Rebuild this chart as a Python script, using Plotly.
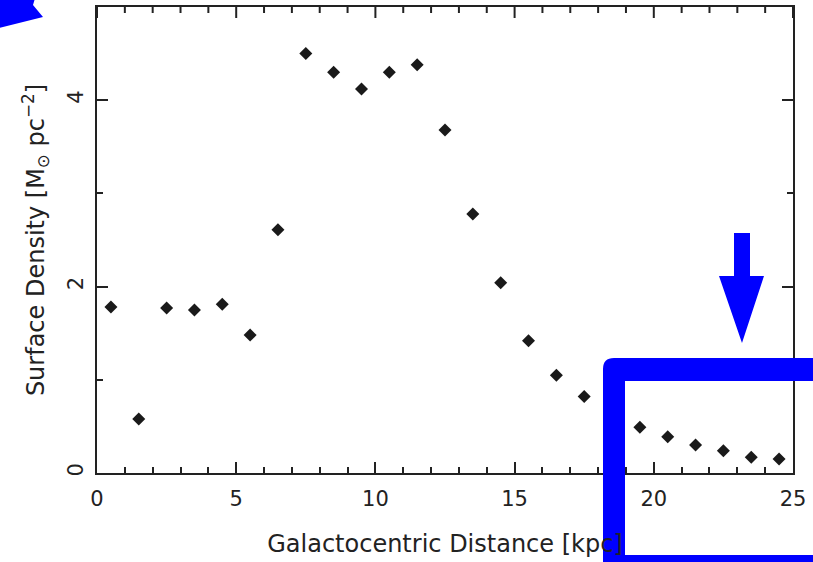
import plotly.graph_objects as go

# ---- data ----
distance_kpc = [0.5, 1.5, 2.5, 3.5, 4.5, 5.5, 6.5, 7.5, 8.5, 9.5, 10.5, 11.5,
                12.5, 13.5, 14.5, 15.5, 16.5, 17.5, 18.5, 19.5, 20.5, 21.5,
                22.5, 23.5, 24.5]
surface_density = [1.78, 0.58, 1.77, 1.75, 1.81, 1.48, 2.61, 4.50, 4.30, 4.12,
                   4.30, 4.38, 3.68, 2.78, 2.04, 1.42, 1.05, 0.82, 0.63, 0.49,
                   0.39, 0.30, 0.24, 0.17, 0.15]
x_ticks = [0, 5, 10, 15, 20, 25]
x_minor_ticks = [v for v in range(1, 25) if v % 5]
y_ticks = [0, 2, 4]

W, H = 813, 562
L, R, T, B = 97, 20, 7, 89
PW, PH = W - L - R, H - T - B


def px(x, y):
    """pixel -> paper coordinates (for overlay annotations only)"""
    return (x - L) / PW, (H - B - y) / PH


def p(x, y):
    X, Y = px(x, y)
    return f"{X:.5f},{Y:.5f}"


def poly(points):
    return " ".join(("M" if i == 0 else "L") + p(x, y) for i, (x, y) in enumerate(points)) + " Z"


def box_path():
    # thick bracket: outer rounded corner, inner sharp corner
    return ("M" + p(603, 575) + " L" + p(603, 369) + " Q" + p(603, 358) + " " + p(614, 358) +
            " L" + p(830, 358) + " L" + p(830, 381) + " L" + p(625, 381) +
            " L" + p(625, 555) + " L" + p(830, 555) + " L" + p(830, 575) + " Z")


BLUE = "#0000ff"
INK = "#222222"
FONT = "DejaVu Sans"

fig = go.Figure()
fig.add_trace(go.Scatter(
    x=distance_kpc, y=surface_density, mode="markers",
    marker=dict(symbol="diamond", size=10, color="#1a1a1a", line=dict(width=0)),
    showlegend=False, cliponaxis=False))

tick_style = dict(ticks="inside", ticklen=11, tickwidth=2, tickcolor=INK)
minor_style = dict(dtick=1, ticks="inside", ticklen=6, tickwidth=2, tickcolor=INK)

axis_common = dict(
    showgrid=False, zeroline=False, showline=True, linecolor=INK, linewidth=2,
    tickfont=dict(family=FONT, size=21, color=INK), **tick_style,
)

# top-edge tick marks (mirror of the bottom axis), placed on the x data scale
top_ticks = []
for v in x_ticks:
    top_ticks.append(dict(type="line", xref="x", yref="paper", x0=v, x1=v,
                          y0=1, y1=1 - 11 / PH, line=dict(color=INK, width=2),
                          layer="above"))
for v in x_minor_ticks:
    top_ticks.append(dict(type="line", xref="x", yref="paper", x0=v, x1=v,
                          y0=1, y1=1 - 6 / PH, line=dict(color=INK, width=2),
                          layer="above"))

fig.update_layout(
    width=W, height=H,
    margin=dict(l=L, r=R, t=T, b=B, pad=0, autoexpand=False),
    paper_bgcolor="white", plot_bgcolor="white",
    xaxis=dict(range=[0, 25], tickvals=x_ticks, ticktext=[str(v) for v in x_ticks],
               mirror=True, minor=minor_style, ticklabelstandoff=6,
               title=dict(text="Galactocentric Distance [kpc]",
                          font=dict(family=FONT, size=24, color=INK), standoff=25),
               **axis_common),
    yaxis=dict(range=[0, 5], tickvals=y_ticks, ticktext=[str(v) for v in y_ticks],
               tickangle=-90, mirror="ticks", minor=minor_style, ticklabelstandoff=4,
               title=dict(text="Surface Density [M<sub>⊙</sub> pc<sup>−2</sup>]",
                          font=dict(family=FONT, size=24, color=INK), standoff=12),
               **axis_common),
    shapes=top_ticks + [
        dict(type="path", xref="paper", yref="paper", path=box_path(),
             fillcolor=BLUE, line=dict(width=0), layer="above"),
        dict(type="path", xref="paper", yref="paper",
             path=poly([(734, 233), (750, 233), (750, 276), (764, 276), (742, 343),
                        (719, 276), (734, 276)]),
             fillcolor=BLUE, line=dict(width=0), layer="above"),
        dict(type="path", xref="paper", yref="paper",
             path=poly([(-5, -5), (36, -5), (33, 5), (43, 17), (-5, 29)]),
             fillcolor=BLUE, line=dict(width=0), layer="above"),
    ],
)

fig.write_html("out.html", config={"displayModeBar": False},
               post_script="document.body.style.margin='0px';")
